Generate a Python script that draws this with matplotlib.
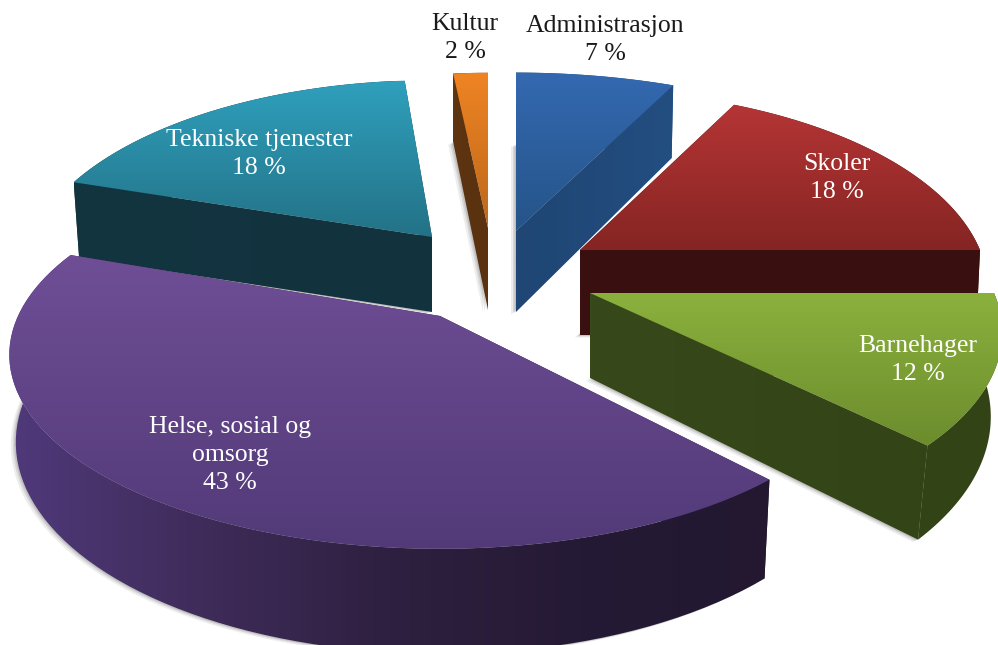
import numpy as np
import matplotlib
matplotlib.use("Agg")
import matplotlib.pyplot as plt
from matplotlib.patches import Polygon
from matplotlib.colors import to_rgb

categories = ["Administrasjon", "Skoler", "Barnehager", "Helse, sosial og\nomsorg", "Tekniske tjenester", "Kultur"]
values = [7, 18, 12, 43, 18, 2]

# layout / style (screen pixels)
W, H = 998, 645
apex = [(516, 231), (580, 250), (590, 293), (440, 316), (432, 237), (488, 228)]
rscale = [(1.09, 0.99), (1.0, 1.0), (1.01, 0.985), (1.055, 0.97), (1.0, 0.98), (1.0, 0.97)]
depth = [86, 85, 81, 84, 80, 82]
apex_depth = [81, 85, 85, 84, 75, 82]
pull = [0.99, 0.99, 0.972, 0.985, 0.985, 1.0]
angle_adj = [(0, 0), (1.8, 0), (0, 0.8), (5.2, 2.5), (0, 2.5), (1.2, 0)]
top_cols = [("#3469B1", "#255488"), ("#B53535", "#852523"), ("#8BB13D", "#6C8C2D"),
            ("#6F4E96", "#523A78"), ("#2FA0BD", "#237286"), ("#EF8423", "#BC681B")]
wall_cols = [("#1F4674", "#234E80"), ("#3B1010", "#3A0F0F"), ("#37481A", "#324315"),
             ("#50397A", "#3F2C5A", "#2E2040", "#251A35", "#231830"),
             ("#123540", "#12323E"), ("#5E3410", "#5A3210")]
label_pos = [(605, 40), (837, 178), (918, 360), (230, 455), (259, 154), (465, 38)]
label_col = ["#1a1a1a", "white", "white", "white", "white", "#1a1a1a"]
order = [5, 0, 4, 1, 2, 3]
Rx, a, k = 400.0, 192.0, 0.2

fig = plt.figure(figsize=(W / 100, H / 100), dpi=100, facecolor="white")
ax = fig.add_axes([0, 0, 1, 1])


def project(i, theta, lower=False):
    X, Y = np.sin(theta), np.cos(theta)
    w = 1 + k * Y
    sx, sy = rscale[i]
    x = Rx * sx * X / w
    y = -a * sy * Y / w
    ax0, ay0 = apex[i]
    if lower:
        x = x * pull[i]
        y = y + depth[i] / w
    return np.column_stack([ax0 + x, ay0 + y])


def gradient(poly, stops, vertical, span=None):
    xmin, ymin = poly.min(axis=0)
    xmax, ymax = poly.max(axis=0)
    if span is not None:
        xmin, xmax = span
    t = np.linspace(0, 1, 128)
    pos = np.linspace(0, 1, len(stops))
    rgb = np.array([to_rgb(c) for c in stops])
    img = np.column_stack([np.interp(t, pos, rgb[:, c]) for c in range(3)])
    img = img[:, None, :] if vertical else img[None, :, :]
    im = ax.imshow(img, extent=(xmin, xmax, ymax, ymin), aspect="auto",
                   interpolation="bilinear", zorder=len(ax.images) + 2)
    patch = Polygon(poly, closed=True, transform=ax.transData, fc="none", ec="none")
    ax.add_patch(patch)
    im.set_clip_path(patch)


fracs = np.array(values) / sum(values)
edges = np.concatenate([[0], np.cumsum(fracs)]) * 2 * np.pi

for i in order:
    t = np.linspace(edges[i] + np.radians(angle_adj[i][0]),
                    edges[i + 1] + np.radians(angle_adj[i][1]), 80)
    top_arc = project(i, t)
    low_arc = project(i, t, lower=True)
    a_top = np.array(apex[i], float)
    a_low = a_top + [0, apex_depth[i]]
    start_wall = np.vstack([a_top, top_arc[0], low_arc[0], a_low])
    end_wall = np.vstack([a_top, top_arc[-1], low_arc[-1], a_low])
    arc_wall = np.vstack([top_arc, low_arc[::-1]])
    start_vis = np.sin(t[0]) < -1e-6
    end_vis = np.sin(t[-1]) > 1e-6
    walls = []
    if not start_vis:
        walls.append(start_wall)
    if not end_vis:
        walls.append(end_wall)
    walls.append(arc_wall)
    if start_vis:
        walls.append(start_wall)
    if end_vis:
        walls.append(end_wall)
    silhouette = np.vstack([a_low, low_arc])
    for off, al in ((5, 0.10), (3, 0.14), (1.5, 0.18)):
        ax.add_patch(Polygon(silhouette + [-off, off * 0.5], closed=True, fc="#555555",
                             ec="none", alpha=al, zorder=len(ax.images) + 2))
    all_x = np.vstack(walls)[:, 0]
    span = (all_x.min(), all_x.max())
    for poly in walls:
        gradient(poly, wall_cols[i], False, span)
    gradient(np.vstack([a_top, top_arc]), top_cols[i], True)

for i, (name, v) in enumerate(zip(categories, values)):
    ax.text(label_pos[i][0], label_pos[i][1], f"{name}\n{v} %", ha="center", va="center",
            family=["Liberation Serif", "DejaVu Serif"], fontsize=18.5, color=label_col[i],
            linespacing=1.35, zorder=500)

ax.set_xlim(0, W)
ax.set_ylim(H, 0)
ax.axis("off")
fig.savefig("out.png", dpi=100, facecolor="white")
